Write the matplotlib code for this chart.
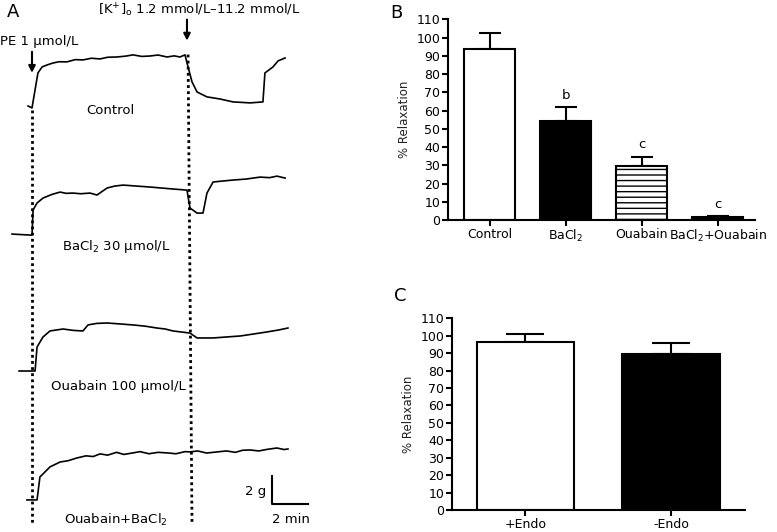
import matplotlib as mlp
mlp.use('Agg')
import matplotlib.pyplot as plt
import numpy as np

plt.rcParams['font.family'] = ['DejaVu Sans']
plt.rcParams['hatch.linewidth'] = 1.0

# Panel A: tension traces, time in min after PE, force in g above own baseline
ctrl_t = [-0.22, 0.0, 0.17, 0.33, 0.56, 0.9, 1.17, 1.5, 1.94, 2.4, 2.83, 3.3, 3.78,
          4.2, 4.72, 5.2, 5.61, 6.1, 6.56, 7.0, 7.5, 7.9, 8.22, 8.5, 8.67, 8.89,
          9.17, 9.72, 10.44, 11.17, 11.6, 12.11, 12.83, 12.94, 13.39, 13.67, 14.06]
ctrl_g = [0.14, 0.0, 1.29, 2.5, 2.93, 3.1, 3.21, 3.3, 3.29, 3.45, 3.43, 3.55, 3.5,
          3.62, 3.64, 3.7, 3.79, 3.68, 3.71, 3.78, 3.64, 3.72, 3.64, 3.79, 2.93, 1.86,
          1.14, 0.79, 0.64, 0.43, 0.4, 0.36, 0.43, 2.5, 2.93, 3.36, 3.57]
ba_t = [-1.11, -0.1, 0.0, 0.06, 0.28, 0.61, 1.1, 1.56, 1.9, 2.28, 2.7, 3.22, 3.61,
        4.17, 4.6, 5.06, 5.8, 6.56, 7.2, 7.83, 8.61, 8.78, 9.17, 9.5, 9.72, 10.06,
        10.6, 11.17, 11.9, 12.67, 13.2, 13.61, 14.06]
ba_g = [0.07, 0.0, 0.0, 1.79, 2.29, 2.64, 2.9, 3.07, 2.98, 3.0, 2.95, 3.0, 2.86,
        3.36, 3.5, 3.57, 3.5, 3.43, 3.36, 3.29, 3.21, 1.93, 1.57, 1.57, 3.0, 3.79,
        3.86, 3.93, 4.0, 4.14, 4.1, 4.21, 4.07]
oua_t = [-0.72, 0.17, 0.28, 0.61, 1.0, 1.72, 2.3, 2.83, 3.11, 3.6, 4.17, 4.9, 5.61,
         6.3, 6.94, 7.4, 7.83, 8.78, 9.17, 10.06, 10.8, 11.56, 12.3, 13.06, 13.7,
         14.22]
oua_g = [0.0, 0.0, 1.71, 2.43, 2.86, 3.0, 2.9, 2.86, 3.29, 3.4, 3.43, 3.36, 3.29,
         3.2, 3.07, 3.0, 2.86, 2.71, 2.36, 2.36, 2.43, 2.5, 2.64, 2.79, 2.93, 3.07]
combo_t = [-0.28, 0.28, 0.44, 1.0, 1.56, 2.0, 2.5, 3.0, 3.4, 3.78, 4.2, 4.7, 5.1,
           5.61, 6.0, 6.5, 7.0, 7.5, 8.0, 8.5, 8.78, 9.2, 9.7, 10.28, 10.8, 11.3,
           11.7, 12.11, 12.6, 13.1, 13.61, 14.0, 14.22]
combo_g = [0.0, 0.0, 1.64, 2.36, 2.71, 2.8, 3.0, 3.15, 3.1, 3.29, 3.2, 3.4, 3.25,
           3.36, 3.45, 3.3, 3.4, 3.36, 3.3, 3.45, 3.43, 3.5, 3.35, 3.43, 3.5, 3.4,
           3.55, 3.57, 3.5, 3.62, 3.71, 3.6, 3.64]
trace_labels = ['Control', r'BaCl$_2$ 30 μmol/L', 'Ouabain 100 μmol/L',
                r'Ouabain+BaCl$_2$']

# Panel B
b_groups = ['Control', r'BaCl$_2$', 'Ouabain', r'BaCl$_2$+Ouabain']
b_mean = [93.6, 54.3, 29.8, 1.5]
b_sem = [8.7, 7.5, 4.9, 0.6]
b_marks = ['', 'b', 'c', 'c']

# Panel C
c_groups = ['+Endo', '-Endo']
c_mean = [96.2, 89.5]
c_sem = [4.8, 6.1]

fig = plt.figure(figsize=(7.77, 5.32), dpi=100)

# ---- A ----
axA = fig.add_axes([0, 0, 330 / 777, 1])
axA.set_xlim(-32 / 18, 298 / 18)
axA.set_ylim(0, 38)
axA.axis('off')
offsets = [30.29, 21.21, 11.5, 2.29]
label_pos = [(4.36, 30.14), (4.67, 20.36), (4.78, 10.36), (4.67, 0.86)]
traces = [(ctrl_t, ctrl_g), (ba_t, ba_g), (oua_t, oua_g), (combo_t, combo_g)]
for (t, g), off, lab, pos in zip(traces, offsets, trace_labels, label_pos):
    axA.plot(t, np.array(g) + off, color='black', lw=1.2)
    axA.text(pos[0], pos[1], lab, ha='center', va='center', fontsize=9.5)

axA.plot([0, 0], [30.14, 0.5], color='black', lw=2, ls=(0, (1, 1.2)))
axA.plot([8.67, 8.89], [34.1, 0.5], color='black', lw=2, ls=(0, (1, 1.2)))
axA.annotate('', xy=(0, 32.6), xytext=(0, 34.5),
             arrowprops=dict(arrowstyle='-|>', color='black', lw=1.5))
axA.annotate('', xy=(8.61, 34.9), xytext=(8.61, 36.8),
             arrowprops=dict(arrowstyle='-|>', color='black', lw=1.5))
axA.text(-1.78, 35.0, 'PE 1 μmol/L', ha='left', va='center', fontsize=9.5)
axA.text(9.28, 37.3, r'[K$^{+}$]$_{\rm o}$ 1.2 mmol/L–11.2 mmol/L',
         ha='center', va='center', fontsize=9.5)
# scale bar
axA.plot([13.33, 13.33, 15.33], [4.0, 2.0, 2.0], color='black', lw=1.5)
axA.text(13.0, 2.86, '2 g', ha='right', va='center', fontsize=9.5)
axA.text(14.39, 0.86, '2 min', ha='center', va='center', fontsize=9.5)
fig.text(7 / 777, 1 - 12 / 532, 'A', fontsize=13, ha='left', va='center')


def style(ax):
    ax.spines['top'].set_visible(False)
    ax.spines['right'].set_visible(False)
    ax.spines['left'].set_linewidth(1.5)
    ax.spines['bottom'].set_linewidth(1.5)
    ax.tick_params(axis='both', length=4, width=1.5, labelsize=9, pad=1.5)
    ax.set_ylim(0, 110)
    ax.set_yticks(np.arange(0, 111, 10))
    ax.set_ylabel('% Relaxation', fontsize=8.5, color='#222222', labelpad=4)


# ---- B ----
axB = fig.add_axes([448 / 777, 1 - 220 / 532, 307 / 777, 200.7 / 532])
xb = np.arange(len(b_groups))
axB.errorbar(xb, b_mean, yerr=[np.zeros(len(xb)), b_sem], fmt='none',
             ecolor='black', elinewidth=1.5, capsize=8, capthick=1.5, zorder=1)
bars = axB.bar(xb, b_mean, width=0.67, color=['white', 'black', 'white', 'black'],
               edgecolor='black', linewidth=1.5, zorder=2)
bars[2].set_hatch('---')
for x, m, s, mk in zip(xb, b_mean, b_sem, b_marks):
    axB.text(x, m + s + 6.5, mk, ha='center', va='center', fontsize=9.5)
axB.set_xlim(-0.546, 3.49)
axB.set_xticks(xb)
axB.set_xticklabels(b_groups)
style(axB)
fig.text(396 / 777, 1 - 13 / 532, 'B', fontsize=13, ha='center', va='center')

# ---- C ----
axC = fig.add_axes([452 / 777, 1 - 510 / 532, 293 / 777, 191.7 / 532])
xc = np.arange(len(c_groups))
axC.errorbar(xc, c_mean, yerr=[np.zeros(len(xc)), c_sem], fmt='none',
             ecolor='black', elinewidth=1.5, capsize=14, capthick=1.5, zorder=1)
axC.bar(xc, c_mean, width=0.67, color=['white', 'black'], edgecolor='black',
        linewidth=1.5, zorder=2)
axC.set_xlim(-0.505, 1.509)
axC.set_xticks(xc)
axC.set_xticklabels(c_groups)
style(axC)
fig.text(400 / 777, 1 - 296 / 532, 'C', fontsize=13, ha='center', va='center')

fig.savefig('out.png', dpi=100)
